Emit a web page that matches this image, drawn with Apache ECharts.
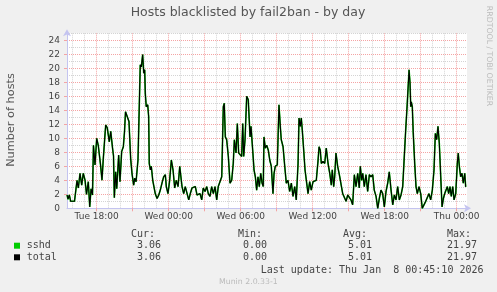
<!DOCTYPE html>
<html><head><meta charset="utf-8">
<script src="https://cdn.jsdelivr.net/npm/echarts@6/dist/echarts.min.js"></script>
<style>html,body{margin:0;padding:0;background:#f0f0f0}#c{width:497px;height:292px}</style>
</head><body><div id="c"></div>
<script>
// Time in hours since Tue 00:00
const hours = [
15.53,15.61,15.72,15.83,15.98,16.15,16.28,16.36,16.47,16.61,16.75,16.88,17.03,17.15,17.30,17.42,17.53,17.65,17.73,17.86,
18.00,18.13,18.25,18.32,18.44,18.55,18.67,18.75,18.88,19.05,19.17,19.32,19.40,19.47,19.58,19.67,19.83,19.94,20.08,20.22,
20.32,20.40,20.55,20.69,20.83,20.94,
21.08,21.17,21.28,21.44,21.63,21.72,21.83,21.92,22.00,22.05,22.13,22.25,22.33,22.38,22.47,22.55,22.67,22.78,22.88,23.03,
23.17,23.30,23.44,23.58,23.72,23.80,23.94,24.08,24.22,24.36,24.50,24.63,24.78,24.92,25.05,25.11,25.25,25.38,25.53,25.67,
25.80,25.94,26.08,26.22,26.36,26.50,
26.61,26.75,26.88,27.03,27.17,27.30,27.44,27.58,27.72,27.86,28.00,28.13,28.28,28.42,28.55,28.63,28.72,28.83,28.97,29.11,
29.25,29.38,29.47,29.61,29.72,29.83,29.94,30.08,30.17,30.25,30.36,30.50,30.63,30.78,30.86,31.00,31.11,31.22,31.33,31.44,
31.55,31.67,31.78,31.88,31.94,32.05,32.17,
32.30,32.42,32.55,32.69,32.78,32.88,33.05,33.19,33.30,33.38,33.53,33.67,33.80,33.94,34.08,34.22,34.36,34.50,34.63,34.78,
34.86,34.97,35.05,35.13,35.25,35.36,35.47,35.61,35.75,35.88,36.03,36.17,36.30,36.44,36.53,36.63,36.72,36.86,37.00,37.13,
37.28,37.42,37.55,37.63,37.75,37.83,
37.94,38.08,38.22,38.36,38.50,38.63,38.78,38.92,39.05,39.19,39.33,39.47,39.61,39.75,39.88,39.97,40.08,40.17,40.30,40.44,
40.58,40.72,40.86,41.00,41.13,41.28,41.42,41.55,41.69,41.83,41.97,42.11,42.25,42.38,42.53,42.67,42.80,42.94,43.08,43.22,
43.36,43.50,
43.61,43.75,43.88,44.03,44.11,44.17,44.22,44.30,44.38,44.50,44.61,44.72,44.86,45.00,45.13,45.28,45.42,45.55,45.69,45.83,
45.97,46.11,46.22,46.33,46.44,46.55,46.67,46.78,46.89,47.00,47.11,47.22,47.33,47.44,47.55,47.67,47.78,47.92,48.05,48.13,
48.22,48.33,48.44,48.55,48.67,48.75
];
const sshd = [
1.9,1.3,1.9,1.0,1.0,1.0,1.0,4.0,2.9,5.0,3.3,5.0,4.0,2.0,3.8,0.2,2.8,1.9,9.0,6.2,
10.0,9.0,9.0,6.2,4.0,7.1,10.0,11.9,11.5,9.5,11.0,8.6,7.5,1.5,5.2,2.8,7.6,3.8,8.1,8.8,
11.0,13.8,13.9,12.4,7.1,5.0,
3.3,4.3,3.8,6.9,20.5,20.2,21.97,19.3,19.8,16.4,14.5,14.8,13.1,6.4,5.5,6.0,4.0,3.8,2.1,1.4,
1.9,2.6,3.6,4.5,4.8,3.1,2.1,4.0,6.9,5.5,2.9,4.0,3.1,6.0,4.0,3.1,2.1,3.1,2.9,1.2,
2.1,2.9,3.1,3.1,1.9,2.1,
2.1,1.2,2.9,2.4,3.1,2.1,1.7,3.1,2.1,3.1,1.2,3.1,3.1,4.5,14.5,15.0,10.2,9.8,7.4,3.6,
4.0,6.4,9.8,7.9,12.1,7.9,7.9,7.4,12.1,7.4,9.8,16.0,15.5,10.2,11.7,8.3,5.5,4.5,2.6,4.5,
3.1,5.0,3.6,3.1,10.2,8.6,9.0,
8.3,6.9,6.0,2.1,5.0,6.0,6.2,14.8,11.7,9.8,8.8,6.0,3.6,4.0,2.4,3.6,1.7,3.1,1.2,6.4,
12.9,11.7,12.9,11.2,8.3,5.5,4.0,2.1,3.8,2.6,3.8,4.0,4.0,6.7,8.8,8.3,6.4,6.7,6.4,8.6,
6.4,5.0,3.3,5.5,3.1,4.5,
7.9,6.0,4.8,5.0,2.1,1.9,1.0,1.9,1.9,1.2,0.5,4.8,3.1,5.0,2.9,6.0,4.0,5.0,3.1,4.8,
2.4,4.8,4.5,4.8,2.6,1.7,0.0,1.4,2.6,2.1,0.2,2.4,3.6,5.2,2.6,0.5,1.9,1.2,3.1,1.2,
1.9,3.1,
3.1,11.2,15.0,19.8,17.9,14.5,15.2,14.5,10.7,6.4,3.1,2.1,3.1,2.1,0.0,0.2,1.0,1.2,2.1,1.2,
2.6,5.5,10.7,9.8,11.7,9.3,4.5,0.2,1.4,2.1,2.1,3.1,2.1,3.1,1.7,3.1,1.2,2.1,6.4,7.9,
6.0,4.5,5.0,3.6,5.0,3.06
];
const xLabelHours = [18, 24, 30, 36, 42, 48];
const xLabelText = ['Tue 18:00', 'Wed 00:00', 'Wed 06:00', 'Wed 12:00', 'Wed 18:00', 'Thu 00:00'];
const yLabels = [0, 2, 4, 6, 8, 10, 12, 14, 16, 18, 20, 22, 24];
const seriesNames = ['sshd', 'total'];
const seriesColors = ['#00cc00', '#000000'];
const statHeaders = ['Cur:', 'Min:', 'Avg:', 'Max:'];
const sshdStats = ['3.06', '0.00', '5.01', '21.97'];
const totalStats = ['3.06', '0.00', '5.01', '21.97'];
const lastUpdate = 'Last update: Thu Jan  8 00:45:10 2026';
const titleText = 'Hosts blacklisted by fail2ban - by day';
const yName = 'Number of hosts';

const xMin = 15.525, xMax = 15.525 + 400 / 12;
const yMax = 25;
const greyX = [], redX = [];
for (let h = 16; h <= 48; h++) { (h % 3 === 0 ? redX : greyX).push(h); }
const greyY = [], redY = [];
for (let v = 1; v <= yMax; v++) { (v % 2 === 0 ? redY : greyY).push(v); }

const total = sshd.map(v => v); // only one jail: total equals sshd
const pairs = arr => hours.map((h, i) => [h, arr[i]]);

const GREY = '#d4d4d4', RED = '#f4a4a4', AXIS = '#c4c4f0', TXT = '#444';
const SANS = 'DejaVu Sans';

const chart = echarts.init(document.getElementById('c'), null, {renderer: 'canvas'});
const g = [];
g.push({type: 'text', x: 248, y: 13, style: {text: titleText, font: '12.5px "DejaVu Sans"', fill: '#555', align: 'center', verticalAlign: 'middle'}});
g.push({type: 'text', x: 11, y: 120, rotation: Math.PI / 2, style: {text: yName, font: '11.3px "DejaVu Sans"', fill: '#555', align: 'center', verticalAlign: 'middle'}});
g.push({type: 'text', x: 489, y: 56, rotation: -Math.PI / 2, style: {text: 'RRDTOOL / TOBI OETIKER', font: '7.8px "DejaVu Sans"', fill: '#bbb', align: 'center', verticalAlign: 'middle'}});
const headX = [131, 238, 343, 447];
const valRight = [161, 267, 372, 477];
statHeaders.forEach((t, i) => g.push({type: 'text', x: headX[i], y: 234, style: {text: t, font: '10px "DejaVu Sans Mono"', fill: TXT, align: 'left', verticalAlign: 'middle'}}));
const rows = [sshdStats, totalStats];
const rowY = [245.7, 257.3];
seriesNames.forEach((n, r) => {
  g.push({type: 'rect', shape: {x: 14, y: rowY[r] - 3, width: 6, height: 6}, style: {fill: seriesColors[r]}});
  g.push({type: 'text', x: 26.7, y: rowY[r], style: {text: n, font: '10px "DejaVu Sans Mono"', fill: TXT, align: 'left', verticalAlign: 'middle'}});
  rows[r].forEach((v, i) => g.push({type: 'text', x: valRight[i], y: rowY[r], style: {text: v, font: '10px "DejaVu Sans Mono"', fill: TXT, align: 'right', verticalAlign: 'middle'}}));
});
g.push({type: 'text', x: 483.5, y: 270, style: {text: lastUpdate, font: '10px "DejaVu Sans Mono"', fill: TXT, align: 'right', verticalAlign: 'middle'}});
g.push({type: 'text', x: 219, y: 281.7, style: {text: 'Munin 2.0.33-1', font: '7.8px "DejaVu Sans"', fill: '#bbb', align: 'left', verticalAlign: 'middle'}});

chart.setOption({
  backgroundColor: '#f0f0f0',
  animation: false,
  grid: {left: 67, top: 33.3, width: 400, height: 175, show: true, backgroundColor: '#ffffff', borderWidth: 0},
  xAxis: [
    {type: 'value', min: xMin, max: xMax, position: 'bottom',
     axisLine: {show: false},
     axisTick: {show: false, customValues: greyX},
     axisLabel: {show: false},
     splitLine: {show: true, lineStyle: {color: GREY, width: 1, type: [1, 1]}}},
    {type: 'value', min: xMin, max: xMax, position: 'bottom',
     axisLine: {show: true, lineStyle: {color: AXIS, width: 1}, symbol: ['none', 'arrow'], symbolSize: [6, 7], symbolOffset: [0, 4]},
     axisTick: {show: true, customValues: redX, length: 3, lineStyle: {color: RED}},
     axisLabel: {customValues: xLabelHours, margin: 4, fontFamily: SANS, fontSize: 9, color: TXT,
       formatter: v => { const i = xLabelHours.indexOf(Math.round(v)); return i >= 0 ? xLabelText[i] : ''; }},
     splitLine: {show: true, lineStyle: {color: RED, width: 1, type: [1, 1]}}}
  ],
  yAxis: [
    {type: 'value', min: 0, max: yMax, position: 'left',
     axisLine: {show: false},
     axisTick: {show: false, customValues: greyY},
     axisLabel: {show: false},
     splitLine: {show: true, lineStyle: {color: GREY, width: 1, type: [1, 1]}}},
    {type: 'value', min: 0, max: yMax, position: 'left',
     axisLine: {show: true, lineStyle: {color: AXIS, width: 1}, symbol: ['none', 'arrow'], symbolSize: [6, 7], symbolOffset: [0, 4]},
     axisTick: {show: true, customValues: redY, length: 3, lineStyle: {color: RED}},
     axisLabel: {customValues: yLabels, margin: 7, fontFamily: SANS, fontSize: 9, color: TXT},
     splitLine: {show: true, lineStyle: {color: RED, width: 1, type: [1, 1]}}}
  ],
  series: [
    {name: seriesNames[0], type: 'line', xAxisIndex: 0, yAxisIndex: 0, data: pairs(sshd), showSymbol: false, symbol: 'none',
     lineStyle: {color: seriesColors[0], width: 1.6}, z: 3},
    {name: seriesNames[1], type: 'line', xAxisIndex: 0, yAxisIndex: 0, data: pairs(total), showSymbol: false, symbol: 'none',
     lineStyle: {color: seriesColors[1], width: 1.1}, z: 4}
  ],
  graphic: g
});
</script></body></html>
